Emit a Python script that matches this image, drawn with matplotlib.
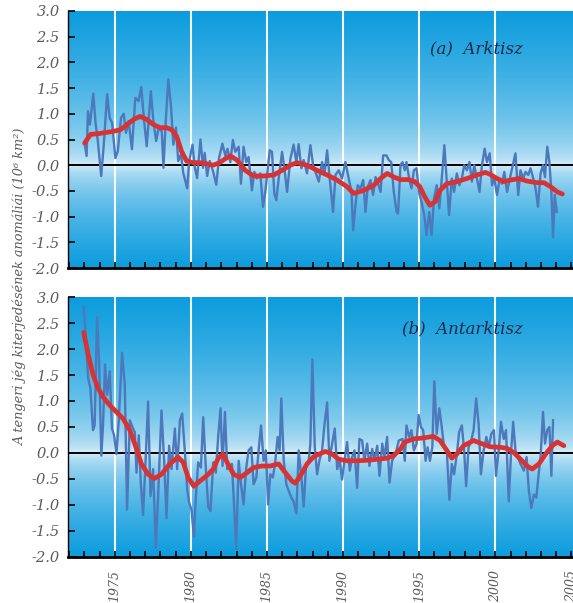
# 北極・南極の海氷面積アノマリー（2パネル）を再現するスクリプト
import numpy as np
import matplotlib
matplotlib.use("Agg")
import matplotlib.pyplot as plt  # noqa: E402
from matplotlib.colors import to_rgb  # noqa: E402
from matplotlib.ticker import MultipleLocator, FormatStrFormatter  # noqa: E402

# --- データ（図から読み取った概算値） ---
arctic_years = [
    1973.02, 1973.15, 1973.24, 1973.37, 1973.59, 1973.74, 1973.89, 1974.11, 1974.28, 1974.5,
    1974.67, 1974.83, 1975.04, 1975.2, 1975.41, 1975.59, 1975.74, 1975.91, 1976.13, 1976.35,
    1976.57, 1976.74, 1976.93, 1977.1, 1977.37, 1977.54, 1977.72, 1977.89, 1978.09, 1978.2,
    1978.35, 1978.52, 1978.7, 1978.85, 1979.02, 1979.17, 1979.35, 1979.5, 1979.76, 1979.89,
    1980.11, 1980.26, 1980.41, 1980.63, 1980.8, 1980.91, 1981.07, 1981.24, 1981.46, 1981.67,
    1981.85, 1982.07, 1982.26, 1982.41, 1982.59, 1982.76, 1982.92, 1983.14, 1983.29, 1983.46,
    1983.64, 1983.79, 1984.01, 1984.17, 1984.34, 1984.56, 1984.74, 1984.89, 1985.18, 1985.33,
    1985.48, 1985.61, 1985.77, 1985.99, 1986.14, 1986.32, 1986.54, 1986.75, 1986.93, 1987.08,
    1987.26, 1987.41, 1987.63, 1987.85, 1988.03, 1988.18, 1988.4, 1988.62, 1988.77, 1988.95,
    1989.12, 1989.34, 1989.5, 1989.71, 1989.93, 1990.15, 1990.37, 1990.55, 1990.66, 1990.81,
    1990.96, 1991.14, 1991.32, 1991.47, 1991.62, 1991.8, 1991.97, 1992.13, 1992.3, 1992.46,
    1992.63, 1992.85, 1993.0, 1993.16, 1993.33, 1993.51, 1993.61, 1993.77, 1993.9, 1994.05,
    1994.16, 1994.34, 1994.49, 1994.65, 1994.82, 1995.0, 1995.15, 1995.33, 1995.48, 1995.66,
    1995.81, 1995.97, 1996.15, 1996.32, 1996.48, 1996.65, 1996.81, 1996.96, 1997.14, 1997.29,
    1997.47, 1997.64, 1997.8, 1997.95, 1998.13, 1998.3, 1998.46, 1998.61, 1998.79, 1998.96,
    1999.12, 1999.3, 1999.45, 1999.63, 1999.78, 1999.93, 2000.11, 2000.29, 2000.44, 2000.59,
    2000.77, 2000.95, 2001.1, 2001.32, 2001.5, 2001.65, 2001.83, 2001.98, 2002.16, 2002.31,
    2002.49, 2002.64, 2002.8, 2002.97, 2003.13, 2003.26, 2003.41, 2003.55, 2003.68, 2003.79,
    2003.9, 2004.03,
]
arctic_values = [
    0.43, 0.18, 1.05, 0.79, 1.39, 0.82, 0.47, -0.21, 0.40, 1.38,
    0.92, 0.82, 0.14, 0.27, 0.92, 1.00, 0.63, 0.86, 0.31, 1.31,
    1.25, 1.52, 0.86, 0.37, 1.44, 0.86, 0.47, 0.73, 0.66, -0.05,
    0.86, 1.67, 1.12, 0.40, 0.73, 0.08, 0.21, -0.15, -0.45, 0.08,
    0.40, -0.05, -0.25, 0.50, -0.05, 0.24, -0.21, 0.08, -0.12, -0.38,
    0.14, 0.42, 0.19, 0.32, 0.06, 0.49, 0.26, 0.36, -0.36, 0.36,
    0.06, 0.16, -0.49, -0.13, -0.26, -0.16, -0.81, -0.52, 0.29, 0.26,
    -0.55, -0.68, -0.26, 0.26, -0.06, -0.52, 0.13, 0.40, 0.06, 0.41,
    -0.06, 0.10, -0.16, 0.39, 0.00, -0.13, -0.32, 0.06, -0.19, 0.29,
    -0.26, -0.91, -0.19, -0.10, -0.26, 0.06, -0.26, -0.52, -1.27, -0.78,
    -0.39, -0.45, -0.29, -0.91, -0.42, -0.29, -0.58, -0.23, -0.36, -0.52,
    0.19, 0.19, 0.10, 0.06, -0.52, -0.91, -0.94, 0.00, 0.06, -0.10,
    0.06, -0.26, -0.45, -0.10, -0.06, -0.55, -0.71, -0.97, -1.36, -0.91,
    -1.36, -0.65, -0.39, -0.84, -0.26, 0.39, -0.32, -0.97, -0.26, -0.52,
    -0.16, -0.39, -0.26, 0.00, -0.10, 0.06, -0.32, 0.00, -0.26, -0.52,
    0.00, 0.32, 0.06, 0.23, -0.39, -0.26, -0.58, -0.26, -0.36, -0.13,
    -0.52, -0.26, -0.06, 0.23, -0.58, -0.10, -0.26, -0.13, -0.19, -0.06,
    -0.26, -0.45, -0.81, -0.16, 0.00, -0.23, 0.36, 0.06, -0.52, -1.40,
    -0.58, -0.91,
]
arctic_smooth_years = [
    1973.02, 1973.41, 1973.85, 1974.28, 1974.93, 1975.37, 1975.8, 1976.24, 1976.67, 1977.11,
    1977.54, 1977.98, 1978.41, 1978.74, 1979.07, 1979.39, 1979.72, 1980.15, 1980.59, 1981.02,
    1981.46, 1981.89, 1982.33, 1982.6, 1983.03, 1983.57, 1984.12, 1984.78, 1985.44, 1985.99,
    1986.54, 1986.97, 1987.63, 1988.29, 1988.95, 1989.61, 1990.26, 1990.7, 1991.36, 1992.02,
    1992.46, 1992.89, 1993.33, 1993.77, 1994.3, 1994.7, 1995.04, 1995.37, 1995.7, 1996.04,
    1996.37, 1996.81, 1997.47, 1998.13, 1998.79, 1999.34, 1999.67, 2000.11, 2000.55, 2000.99,
    2001.54, 2002.09, 2002.75, 2003.19, 2003.63, 2004.07, 2004.4,
]
arctic_smooth_values = [
    0.43, 0.60, 0.61, 0.63, 0.66, 0.69, 0.79, 0.89, 0.95, 0.89,
    0.79, 0.73, 0.73, 0.69, 0.56, 0.27, 0.08, 0.05, 0.05, 0.03,
    0.00, 0.05, 0.14, 0.18, 0.10, -0.10, -0.21, -0.21, -0.19, -0.10,
    0.00, 0.05, 0.00, -0.10, -0.19, -0.29, -0.42, -0.55, -0.49, -0.39,
    -0.26, -0.16, -0.23, -0.28, -0.28, -0.32, -0.42, -0.62, -0.78, -0.71,
    -0.49, -0.36, -0.32, -0.26, -0.19, -0.14, -0.18, -0.26, -0.32, -0.29,
    -0.26, -0.31, -0.34, -0.34, -0.42, -0.52, -0.56,
]

antarctic_years = [
    1972.96, 1973.09, 1973.25, 1973.4, 1973.57, 1973.68, 1973.84, 1973.97, 1974.12, 1974.23,
    1974.36, 1974.5, 1974.67, 1974.82, 1974.96, 1975.11, 1975.26, 1975.48, 1975.66, 1975.81,
    1975.99, 1976.16, 1976.32, 1976.43, 1976.58, 1976.71, 1976.86, 1977.04, 1977.19, 1977.35,
    1977.52, 1977.7, 1977.85, 1978.07, 1978.25, 1978.4, 1978.57, 1978.73, 1978.95, 1979.1,
    1979.28, 1979.43, 1979.61, 1979.76, 1979.89, 1980.04, 1980.2, 1980.33, 1980.48, 1980.66,
    1980.81, 1980.99, 1981.14, 1981.29, 1981.47, 1981.64, 1981.8, 1981.95, 1982.08, 1982.24,
    1982.39, 1982.7, 1982.98, 1983.14, 1983.29, 1983.46, 1983.64, 1983.79, 1983.97, 1984.12,
    1984.3, 1984.45, 1984.61, 1984.78, 1984.93, 1985.07, 1985.22, 1985.39, 1985.55, 1985.7,
    1985.83, 1985.94, 1986.1, 1986.27, 1986.43, 1986.6, 1986.75, 1986.93, 1987.08, 1987.24,
    1987.41, 1987.57, 1987.74, 1987.85, 1987.98, 1988.14, 1988.29, 1988.44, 1988.62, 1988.77,
    1988.95, 1989.1, 1989.28, 1989.45, 1989.61, 1989.78, 1989.93, 1990.09, 1990.26, 1990.44,
    1990.59, 1990.75, 1990.92, 1991.07, 1991.25, 1991.4, 1991.58, 1991.73, 1991.91, 1992.06,
    1992.24, 1992.39, 1992.57, 1992.72, 1992.89, 1993.05, 1993.22, 1993.44, 1993.66, 1993.9,
    1994.05, 1994.16, 1994.34, 1994.49, 1994.65, 1994.82, 1994.96, 1995.11, 1995.26, 1995.42,
    1995.55, 1995.7, 1995.86, 1995.99, 1996.15, 1996.32, 1996.48, 1996.63, 1996.81, 1996.98,
    1997.14, 1997.29, 1997.47, 1997.62, 1997.8, 1997.95, 1998.08, 1998.24, 1998.39, 1998.57,
    1998.74, 1998.9, 1999.05, 1999.23, 1999.41, 1999.56, 1999.74, 1999.91, 2000.04, 2000.22,
    2000.37, 2000.55, 2000.7, 2000.88, 2001.04, 2001.17, 2001.32, 2001.48, 2001.65, 2001.87,
    2002.05, 2002.2, 2002.36, 2002.53, 2002.69, 2002.82, 2002.97, 2003.13, 2003.26, 2003.41,
    2003.55, 2003.68, 2003.79,
]
antarctic_values = [
    2.81, 2.29, 1.44, 1.25, 0.44, 0.53, 2.61, 1.77, -0.05, 0.53,
    1.70, 1.12, 1.57, 0.47, 0.34, -0.02, 0.60, 1.93, 1.31, -1.09,
    0.63, 0.50, 0.40, -0.38, 0.34, -0.57, -1.19, -0.05, 0.99, -0.83,
    -0.31, -1.84, -0.83, 0.82, -0.18, -1.25, 0.14, -0.31, 0.47, -0.31,
    0.63, 0.76, 0.01, -0.70, -0.96, -1.09, -1.61, -0.83, -0.18, -0.28,
    0.69, -0.34, -1.03, -1.12, -0.18, -0.38, 0.34, 0.86, -0.25, 0.79,
    -0.31, -0.21, -1.84, -0.15, -0.60, -0.99, -0.28, 0.05, 0.11, -0.60,
    -0.47, 0.05, 0.53, -0.15, 0.05, -0.99, -0.41, -0.47, -0.15, 0.31,
    0.05, 1.05, -0.15, -0.60, -0.73, -0.86, -0.93, -1.16, 0.05, -0.41,
    -1.03, -0.21, -0.15, 0.18, 1.80, 0.11, -0.41, -0.15, 0.05, 0.53,
    0.97, -0.15, 0.18, 0.47, -0.31, -0.15, -0.51, -0.15, 0.21, -0.34,
    -0.08, 0.05, -0.67, 0.27, 0.24, -0.15, 0.18, -0.25, 0.08, -0.15,
    0.14, -0.44, 0.18, -0.08, 0.31, -0.57, -0.15, -0.02, 0.24, 0.27,
    -0.15, 0.53, 0.31, 0.44, 0.05, 0.18, 0.73, 0.50, 0.44, -0.15,
    0.11, -0.15, 0.11, 1.38, 0.37, 0.86, 0.50, 0.11, 0.05, -0.90,
    -0.21, -0.41, -0.02, 0.40, 0.53, 0.05, -0.64, 0.11, 0.21, 0.44,
    1.05, 0.56, -0.41, 0.05, 0.31, 0.11, 0.37, 0.44, -0.44, 0.05,
    0.60, 0.27, 0.44, -0.93, 0.05, 0.60, 0.05, -0.08, -0.21, -0.34,
    -0.08, -0.73, -1.06, -0.80, -0.86, -0.47, -0.08, 0.79, 0.18, 0.44,
    0.50, -0.44, 0.63,
]
antarctic_smooth_years = [
    1972.96, 1973.25, 1973.57, 1973.9, 1974.23, 1974.67, 1975.11, 1975.55, 1975.99, 1976.43,
    1976.75, 1977.19, 1977.6, 1978.07, 1978.62, 1979.15, 1979.5, 1979.82, 1980.2, 1980.59,
    1981.03, 1981.47, 1981.8, 1982.1, 1982.45, 1982.81, 1983.25, 1983.68, 1984.12, 1984.67,
    1985.22, 1985.77, 1986.21, 1986.64, 1986.86, 1987.19, 1987.63, 1988.07, 1988.51, 1988.84,
    1989.28, 1989.71, 1990.26, 1990.92, 1991.58, 1992.24, 1992.89, 1993.33, 1993.77, 1994.05,
    1994.6, 1995.26, 1995.93, 1996.37, 1996.81, 1997.14, 1997.47, 1997.91, 1998.57, 1999.01,
    1999.67, 2000.33, 2000.77, 2001.21, 2001.65, 2002.09, 2002.42, 2002.86, 2003.3, 2003.74,
    2004.07, 2004.5,
]
antarctic_smooth_values = [
    2.32, 1.90, 1.51, 1.25, 1.08, 0.92, 0.79, 0.66, 0.44, 0.08,
    -0.21, -0.41, -0.49, -0.41, -0.21, -0.08, -0.18, -0.47, -0.64, -0.54,
    -0.44, -0.31, -0.10, -0.02, -0.22, -0.41, -0.47, -0.38, -0.28, -0.25,
    -0.25, -0.21, -0.38, -0.54, -0.58, -0.44, -0.21, -0.07, -0.01, 0.03,
    -0.02, -0.12, -0.15, -0.15, -0.14, -0.12, -0.10, -0.05, 0.08, 0.21,
    0.27, 0.29, 0.32, 0.24, 0.05, -0.10, -0.02, 0.14, 0.24, 0.19,
    0.12, 0.11, 0.09, 0.01, -0.12, -0.25, -0.31, -0.21, -0.02, 0.14,
    0.21, 0.14,
]

panel_titles = ["(a)  Arktisz", "(b)  Antarktisz"]
grid_years = [1975, 1980, 1985, 1990, 1995, 2000]
year_labels = [1975, 1980, 1985, 1990, 1995, 2000, 2005]
y_label = "A tengeri jég kiterjedésének anomáliái (10⁶ km²)"

# --- 見た目 ---
plt.rcParams["font.family"] = ["DejaVu Serif"]
plt.rcParams["axes.unicode_minus"] = False

X0, X1 = 1971.93, 2005.1
Y0, Y1 = -2.0, 3.0
DARK = np.array(to_rgb("#0c9cdd"))
LIGHT = np.array(to_rgb("#e6f3fb"))
TEXT_GRAY = "#5a5a5a"


def _gradient(ax):
    """ゼロ線で明るく、上下端で濃い青になる背景。"""
    yy = np.linspace(Y1, Y0, 500)
    t = np.where(yy >= 0, yy / Y1, yy / Y0) ** 0.5
    img = LIGHT + (DARK - LIGHT) * t[:, None]
    ax.imshow(img[:, None, :], extent=[X0, X1, Y0, Y1], aspect="auto",
              interpolation="bilinear", zorder=0)


def _panel(ax, years, values, s_years, s_values, title, title_x, title_y):
    _gradient(ax)
    for yr in grid_years:
        ax.axvline(yr, color="white", lw=1.5, alpha=0.95, zorder=1)
    ax.axhline(0, color="black", lw=1.4, zorder=2)
    ax.plot(years, values, color="#4b79bb", lw=1.7, zorder=3)
    ax.plot(s_years, s_values, color="#d93232", lw=3.4, zorder=4,
            solid_capstyle="round", solid_joinstyle="round")
    ax.text(title_x, title_y, title, fontsize=12, style="italic",
            color="#1c2b4a", ha="left", va="center", zorder=5)

    ax.set_xlim(X0, X1)
    ax.set_ylim(Y0, Y1)
    ax.yaxis.set_major_locator(MultipleLocator(0.5))
    ax.yaxis.set_major_formatter(FormatStrFormatter("%.1f"))
    ax.set_xticks(year_labels)
    ax.xaxis.set_minor_locator(MultipleLocator(1))
    ax.tick_params(axis="both", which="both", direction="in", color="black")
    ax.tick_params(axis="y", length=5, width=1.2, labelsize=10.5,
                   labelcolor=TEXT_GRAY, pad=6)
    ax.tick_params(axis="x", which="both", length=4, width=1.2)
    for lab in ax.get_yticklabels():
        lab.set_style("italic")
    for side in ("top", "right"):
        ax.spines[side].set_visible(False)
    ax.spines["left"].set_linewidth(1.0)
    ax.spines["bottom"].set_linewidth(2.0)


fig = plt.figure(figsize=(5.73, 6.03), dpi=100)
W, H = 573.0, 603.0
ax_a = fig.add_axes([68 / W, 1 - 268 / H, (573 - 68) / W, 257 / H])
ax_b = fig.add_axes([68 / W, 1 - 557 / H, (573 - 68) / W, 260 / H])

_panel(ax_a, arctic_years, arctic_values, arctic_smooth_years,
       arctic_smooth_values, panel_titles[0], 1995.7, 2.27)
_panel(ax_b, antarctic_years, antarctic_values, antarctic_smooth_years,
       antarctic_smooth_values, panel_titles[1], 1993.9, 2.38)

ax_a.tick_params(axis="x", labelbottom=False)
ax_b.tick_params(axis="x", labelsize=9, labelcolor=TEXT_GRAY, pad=9,
                 labelrotation=90)
for lab in ax_b.get_xticklabels():
    lab.set_style("italic")
    lab.set_verticalalignment("top")

fig.text(20 / W, 1 - 286 / H, y_label, rotation=90, fontsize=9.3,
         style="italic", color=TEXT_GRAY, ha="center", va="center")

fig.savefig("out.png", dpi=100)
